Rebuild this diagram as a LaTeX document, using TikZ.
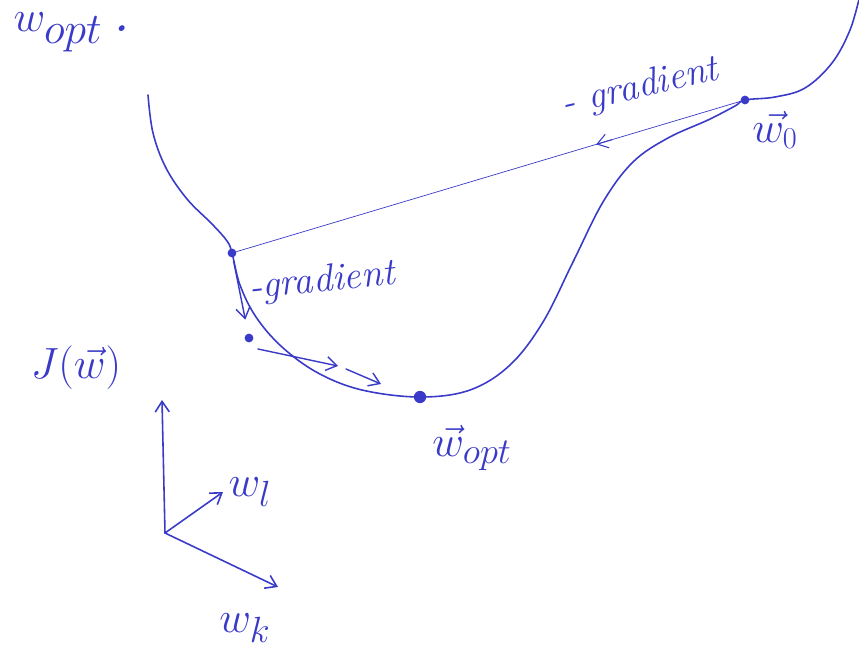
\documentclass[tikz,border=0pt]{standalone}
\usepackage{amsmath}
\usetikzlibrary{arrows.meta, positioning, calc}
\definecolor{inkblue}{HTML}{3A3AC8}

\begin{document}
\begin{tikzpicture}[x=0.02cm, y=-0.02cm,
    ink/.style={draw=inkblue, line width=#1, line cap=round, line join=round},
    ink/.default=0.9pt,
    hand/.style={text=inkblue, font=\fontsize{#1}{#1}\selectfont\itshape, inner sep=1pt},
    hand/.default=22pt,
    dot/.style={circle, fill=inkblue, inner sep=0pt, minimum size=5pt},
    barb/.style={-{Straight Barb[length=6pt, width=8pt]}},
]
    \useasboundingbox (0,0) rectangle (859,662);

    % Points on the curve
    \node[dot] (w0) at (745,100) {};
    \node[dot] (pl) at (232,253) {};
    \node[dot] (p1) at (249,338) {};
    \node[dot, minimum width=7pt, minimum height=4pt] (wopt) at (420,397) {};

    % Cost curve
    \draw[ink] plot[smooth, tension=0.6] coordinates {
        (148,95) (153,133) (166,168) (187,199) (212,224) (227,241) (232,253)
        (240,285) (256,317) (282,347) (318,373) (362,390) (420,397)
        (470,390) (510,365) (543,322) (573,262) (603,202) (633,162)
        (668,138) (708,120) (735,106) (745,100) (775,97) (805,88)
        (832,63) (850,30) (860,-5)};

    % Tangent at w0
    \draw[ink=0.4pt] (w0) -- (pl);
    \draw[ink=0.6pt, barb] ($(w0)!0.26!(pl)$) -- ($(w0)!0.29!(pl)$);

    % Gradient steps
    \coordinate (s1) at (258,349);
    \coordinate (s2) at (338,366);
    \coordinate (s3) at (346,369);
    \coordinate (s4) at (381,384);
    \draw[ink=0.8pt, barb, shorten <=2pt, shorten >=8pt] (pl) -- (p1);
    \draw[ink=0.8pt, barb] (s1) -- (s2);
    \draw[ink=0.8pt, barb] (s3) -- (s4);

    % Labels
    \node[hand=34pt] (title) at (72,32) {$w_{opt}$\,.};
    \node[hand=22pt, rotate=13] (grad0) at (640,88) {- gradient};
    \node[hand=22pt, rotate=6] (grad1) at (322,282) {-gradient};
    \node[hand=24pt] (w0lab) at (775,130) {$\vec{w_0}$};
    \node[hand=28pt] (woptlab) at (472,448) {$\vec{w}_{opt}$};
    \node[hand=38pt] (jlab) at (76,368) {$J(\vec{w})$};

    % Axes
    \coordinate (org) at (165,533);
    \coordinate (zup) at (162,400);
    \coordinate (lend) at (223,492);
    \coordinate (kend) at (278,587);
    \draw[ink, barb] (org) -- (zup);
    \draw[ink, barb] (org) -- (lend);
    \draw[ink, barb] (org) -- (kend);
    \node[hand=28pt, right=2pt of lend] (wl) {$w_l$};
    \node[hand=28pt] (wk) at (245,628) {$w_k$};
\end{tikzpicture}
\end{document}
